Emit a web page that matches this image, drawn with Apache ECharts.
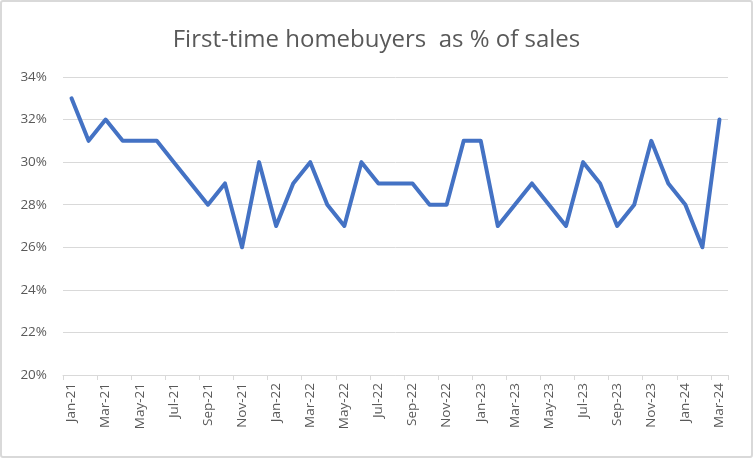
<!DOCTYPE html>
<html lang="en">
<head>
    <meta charset="UTF-8">
    <title>First-time homebuyers</title>
    <script src="https://cdn.jsdelivr.net/npm/echarts@6/dist/echarts.min.js"></script>
    <style>
        body {
            margin: 0;
            padding: 0;
            overflow: hidden;
            background: #fff;
        }
        #chart {
            position: absolute;
            left: 0;
            top: 0;
            width: 749px;
            height: 454px;
            border: 2px solid #d9d9d9;
            border-radius: 3px;
        }
    </style>
</head>
<body>
<div id="chart"></div>
<script>
    // months Jan-21 .. Mar-24
    const months = [
        'Jan-21', 'Feb-21', 'Mar-21', 'Apr-21', 'May-21', 'Jun-21', 'Jul-21', 'Aug-21', 'Sep-21', 'Oct-21', 'Nov-21', 'Dec-21',
        'Jan-22', 'Feb-22', 'Mar-22', 'Apr-22', 'May-22', 'Jun-22', 'Jul-22', 'Aug-22', 'Sep-22', 'Oct-22', 'Nov-22', 'Dec-22',
        'Jan-23', 'Feb-23', 'Mar-23', 'Apr-23', 'May-23', 'Jun-23', 'Jul-23', 'Aug-23', 'Sep-23', 'Oct-23', 'Nov-23', 'Dec-23',
        'Jan-24', 'Feb-24', 'Mar-24'
    ]
    // share of sales, percent
    const firstTimeShare = [
        33, 31, 32, 31, 31, 31, 30, 29, 28, 29, 26, 30,
        27, 29, 30, 28, 27, 30, 29, 29, 29, 28, 28, 31,
        31, 27, 28, 29, 28, 27, 30, 29, 27, 28, 31, 29,
        28, 26, 32
    ]
    const yTicks = [20, 22, 24, 26, 28, 30, 32, 34]

    const textColor = '#595959'
    const font = '"Open Sans", "Liberation Sans", sans-serif'

    const chart = echarts.init(document.getElementById('chart'))
    chart.setOption({
        animation: false,
        title: {
            text: 'First-time homebuyers  as % of sales',
            left: 'center',
            top: 21,
            textStyle: {
                color: textColor,
                fontFamily: font,
                fontSize: 24,
                fontWeight: 'normal'
            }
        },
        grid: {
            left: 61,
            right: 23,
            top: 75,
            bottom: 81,
            containLabel: false
        },
        xAxis: {
            type: 'category',
            data: months,
            boundaryGap: true,
            axisLine: { lineStyle: { color: '#d9d9d9', width: 1 } },
            axisTick: { show: true, interval: 1, length: 5, lineStyle: { color: '#d9d9d9' } },
            axisLabel: {
                interval: 1,
                rotate: 90,
                color: textColor,
                fontFamily: font,
                fontSize: 13.5,
                margin: 8
            }
        },
        yAxis: {
            type: 'value',
            min: yTicks[0],
            max: yTicks[yTicks.length - 1],
            interval: 2,
            axisLine: { show: false },
            axisTick: { show: false },
            axisLabel: {
                color: textColor,
                fontFamily: font,
                fontSize: 13.5,
                margin: 16,
                formatter: v => v + '%'
            },
            splitLine: { lineStyle: { color: '#d9d9d9', width: 1 } }
        },
        series: [{
            type: 'line',
            data: firstTimeShare,
            showSymbol: false,
            lineStyle: { color: '#4472C4', width: 4, cap: 'round', join: 'round' },
            itemStyle: { color: '#4472C4' }
        }]
    })
</script>
</body>
</html>
